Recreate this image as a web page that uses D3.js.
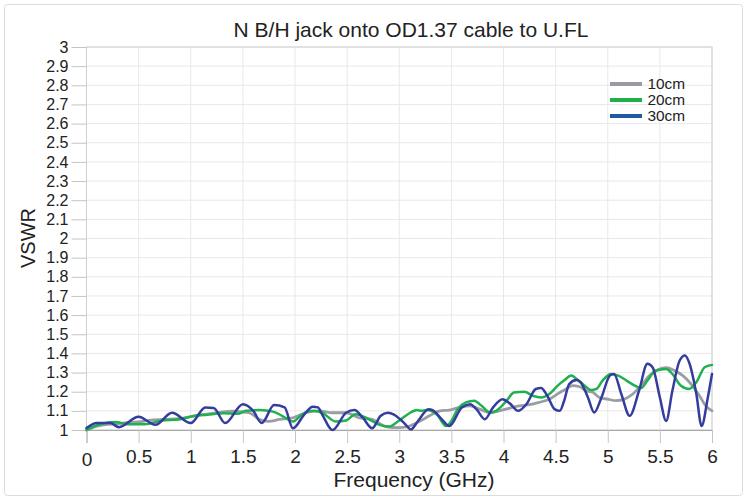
<!DOCTYPE html>
<html><head><meta charset="utf-8">
<script src="https://cdn.jsdelivr.net/npm/d3@7"></script>
<style>
html,body{margin:0;padding:0;background:#fff;}
svg{display:block;font-family:"Liberation Sans",Arial,sans-serif;}
</style></head>
<body><svg id="chart" width="747" height="500"></svg>
<script>
const title = "N B/H jack onto OD1.37 cable to U.FL";
const xTicks = [0,0.5,1,1.5,2,2.5,3,3.5,4,4.5,5,5.5,6];
const yTicks = d3.range(10,31).map(d=>d/10);
const seriesNames = ["10cm","20cm","30cm"];
const seriesColors = ["#9a9ea3","#1fb14f","#343d9e"];
const legendColors = ["#989ca2","#1fb04a","#1f5aa6"];

// [frequency GHz, VSWR]
const data10cm = [[0,1.0],[0.1,1.02],[0.2,1.03],[0.3,1.032],[0.4,1.04],[0.5,1.042],[0.6,1.05],[0.75,1.055],[0.9,1.06],[1.0,1.07],[1.1,1.08],[1.25,1.09],[1.4,1.098],[1.47,1.096],[1.56,1.09],[1.66,1.055],[1.75,1.045],[1.85,1.055],[1.98,1.064],[2.1,1.09],[2.23,1.1],[2.36,1.09],[2.49,1.09],[2.61,1.064],[2.74,1.055],[2.87,1.018],[3.0,1.012],[3.1,1.021],[3.2,1.047],[3.29,1.074],[3.39,1.1],[3.48,1.104],[3.58,1.118],[3.68,1.126],[3.77,1.109],[3.87,1.091],[3.96,1.1],[4.06,1.114],[4.15,1.126],[4.25,1.132],[4.34,1.144],[4.44,1.161],[4.54,1.196],[4.6,1.214],[4.66,1.232],[4.73,1.226],[4.79,1.205],[4.86,1.196],[4.92,1.17],[5.0,1.161],[5.08,1.153],[5.16,1.161],[5.24,1.188],[5.32,1.232],[5.4,1.284],[5.48,1.314],[5.56,1.325],[5.64,1.31],[5.72,1.284],[5.8,1.24],[5.88,1.179],[5.94,1.126],[6.0,1.1]];
const data20cm = [[0,1.0],[0.13,1.03],[0.28,1.042],[0.4,1.03],[0.56,1.03],[0.72,1.049],[0.88,1.055],[1.03,1.073],[1.16,1.08],[1.32,1.087],[1.45,1.085],[1.53,1.1],[1.66,1.104],[1.79,1.096],[1.88,1.073],[1.98,1.045],[2.07,1.082],[2.17,1.1],[2.26,1.09],[2.39,1.045],[2.49,1.05],[2.58,1.082],[2.68,1.064],[2.81,1.027],[2.9,1.018],[3.0,1.05],[3.09,1.085],[3.17,1.104],[3.21,1.1],[3.26,1.105],[3.36,1.082],[3.45,1.021],[3.5,1.047],[3.56,1.109],[3.64,1.144],[3.72,1.153],[3.79,1.126],[3.87,1.091],[3.93,1.1],[4.03,1.153],[4.1,1.196],[4.2,1.2],[4.28,1.179],[4.36,1.17],[4.44,1.188],[4.52,1.232],[4.58,1.258],[4.65,1.284],[4.7,1.267],[4.76,1.24],[4.84,1.209],[4.89,1.214],[4.95,1.258],[5.03,1.293],[5.1,1.284],[5.18,1.258],[5.26,1.232],[5.32,1.219],[5.38,1.258],[5.46,1.31],[5.56,1.319],[5.62,1.293],[5.7,1.232],[5.78,1.214],[5.85,1.249],[5.93,1.328],[6.0,1.34]];
const data30cm = [[0,1.01],[0.1,1.036],[0.23,1.036],[0.31,1.015],[0.5,1.069],[0.66,1.027],[0.82,1.09],[1.0,1.036],[1.14,1.118],[1.22,1.115],[1.33,1.036],[1.5,1.135],[1.6,1.1],[1.68,1.036],[1.8,1.13],[1.9,1.118],[1.98,1.009],[2.09,1.082],[2.17,1.122],[2.22,1.118],[2.26,1.082],[2.36,1.0],[2.49,1.09],[2.57,1.104],[2.65,1.064],[2.74,1.009],[2.82,1.073],[2.89,1.09],[2.95,1.08],[3.0,1.06],[3.05,1.035],[3.11,1.003],[3.18,1.047],[3.28,1.109],[3.32,1.104],[3.4,1.061],[3.48,1.021],[3.6,1.118],[3.68,1.135],[3.74,1.109],[3.82,1.056],[3.9,1.118],[3.99,1.161],[4.06,1.139],[4.14,1.1],[4.22,1.135],[4.31,1.214],[4.36,1.219],[4.42,1.179],[4.49,1.109],[4.54,1.1],[4.58,1.15],[4.63,1.24],[4.7,1.261],[4.74,1.249],[4.81,1.17],[4.87,1.091],[4.94,1.17],[5.02,1.284],[5.06,1.293],[5.13,1.188],[5.21,1.074],[5.3,1.205],[5.38,1.346],[5.43,1.328],[5.5,1.17],[5.56,1.047],[5.62,1.205],[5.69,1.363],[5.74,1.389],[5.78,1.354],[5.85,1.188],[5.9,1.021],[5.96,1.17],[6.0,1.293]];
const allSeries = [data10cm, data20cm, data30cm];

const svg = d3.select("#chart");
const L = 86.5, R = 712, T = 47, B = 430;
const x = d3.scaleLinear().domain([0,6]).range([L,R]);
const y = d3.scaleLinear().domain([1,3]).range([B,T]);

// outer frame
svg.append("rect").attr("x",4.5).attr("y",4.5).attr("width",738).attr("height",491)
  .attr("rx",3).attr("fill","#fff").attr("stroke","#dcdcdc");

// grid
svg.append("g").selectAll("line").data(yTicks).join("line")
  .attr("x1",L).attr("x2",R).attr("y1",d=>y(d)).attr("y2",d=>y(d))
  .attr("stroke","#e8e8e8").attr("stroke-width",1);
svg.append("g").selectAll("line").data(xTicks).join("line")
  .attr("y1",T).attr("y2",B).attr("x1",d=>x(d)).attr("x2",d=>x(d))
  .attr("stroke","#e8e8e8").attr("stroke-width",1);

// plot border
svg.append("rect").attr("x",L).attr("y",T).attr("width",R-L).attr("height",B-T)
  .attr("fill","none").attr("stroke","#cfcfcf");

// Y axis
const yAxis = d3.axisLeft(y).tickValues(yTicks).tickSize(15).tickPadding(3)
  .tickFormat(d=>d3.format("")(+d.toFixed(1)));
const gy = svg.append("g").attr("transform",`translate(${L},0)`).call(yAxis);
gy.select(".domain").remove();
gy.selectAll(".tick line").attr("stroke","#c4c4c4");
gy.selectAll(".tick text").attr("font-size",16).attr("fill","#222")
  .attr("font-family","Liberation Sans, Arial, sans-serif");

// X axis
const xAxis = d3.axisBottom(x).tickValues(xTicks).tickSize(13).tickPadding(7)
  .tickFormat(d=>String(d));
const gx = svg.append("g").attr("transform",`translate(0,${B})`).call(xAxis);
gx.select(".domain").attr("stroke","#a8a8a8");
gx.selectAll(".tick line").attr("stroke","#c4c4c4");
gx.selectAll(".tick text").attr("font-size",19).attr("fill","#222")
  .attr("font-family","Liberation Sans, Arial, sans-serif")
  .attr("dy",d=>d===0?"0.86em":"0.71em");

// lines
const line = d3.line().x(d=>x(d[0])).y(d=>y(d[1])).curve(d3.curveMonotoneX);
svg.append("g").selectAll("path").data(allSeries).join("path")
  .attr("d",line).attr("fill","none")
  .attr("stroke",(d,i)=>seriesColors[i]).attr("stroke-width",(d,i)=>i===0?2.8:2.5)
  .attr("stroke-linejoin","round").attr("stroke-linecap","round");

// title & labels
svg.append("text").attr("x",411).attr("y",37).attr("text-anchor","middle")
  .attr("font-size",21).attr("fill","#222").text(title);
svg.append("text").attr("x",414).attr("y",487).attr("text-anchor","middle")
  .attr("font-size",21).attr("fill","#222").text("Frequency (GHz)");
svg.append("text").attr("transform","translate(35,238) rotate(-90)").attr("text-anchor","middle")
  .attr("font-size",20).attr("fill","#222").text("VSWR");

// legend
const lg = svg.append("g");
seriesNames.forEach((n,i)=>{
  const yy = 84 + i*16;
  lg.append("line").attr("x1",610).attr("x2",642).attr("y1",yy).attr("y2",yy)
    .attr("stroke",legendColors[i]).attr("stroke-width",4);
  lg.append("text").attr("x",647.5).attr("y",yy+4.5).attr("font-size",15.4).attr("fill","#222").text(n);
});
</script></body></html>
